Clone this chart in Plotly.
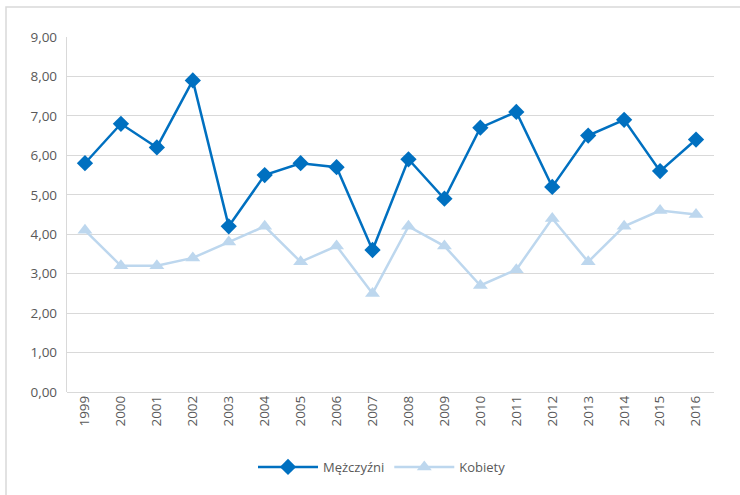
import plotly.graph_objects as go

years = [str(y) for y in range(1999, 2017)]
men = [5.8, 6.8, 6.2, 7.9, 4.2, 5.5, 5.8, 5.7, 3.6, 5.9, 4.9, 6.7, 7.1, 5.2, 6.5, 6.9, 5.6, 6.4]
women = [4.1, 3.2, 3.2, 3.4, 3.8, 4.2, 3.3, 3.7, 2.5, 4.2, 3.7, 2.7, 3.1, 4.4, 3.3, 4.2, 4.6, 4.5]
yticks = [0, 1, 2, 3, 4, 5, 6, 7, 8, 9]

fig = go.Figure()
fig.add_trace(go.Scatter(x=years, y=men, name="Mężczyźni", mode="lines+markers",
                         line=dict(color="#0070C0", width=2.5),
                         marker=dict(symbol="diamond", size=12.5, color="#0070C0")))
fig.add_trace(go.Scatter(x=years, y=women, name="Kobiety", mode="lines+markers",
                         line=dict(color="#BDD7EE", width=2.5),
                         marker=dict(symbol="triangle-up", size=13, color="#BDD7EE")))

W, H = 740, 495
L, R, T, B = 67, 26, 37, 103
pw, ph = W - L - R, H - T - B

fig.update_layout(
    width=W, height=H,
    margin=dict(l=L, r=R, t=T, b=B, autoexpand=False),
    paper_bgcolor="white", plot_bgcolor="white",
    separators=", ",
    font=dict(family="Open Sans, sans-serif", size=13, color="#595959"),
    showlegend=True,
    legend=dict(orientation="h", x=(382 - L) / pw, xanchor="center", y=-(467 - (H - B)) / ph,
                yanchor="middle", font=dict(size=13, color="#595959"), itemwidth=60),
    xaxis=dict(type="category", tickangle=-90, showgrid=False, showline=False,
               ticks="", range=[-0.5, 17.5], automargin=False,
               tickfont=dict(size=13.5, color="#595959")),
    yaxis=dict(range=[0, 9], tickvals=yticks, tickformat=".2f", showgrid=True,
               gridcolor="#D9D9D9", gridwidth=1.4, showline=True, linecolor="#D9D9D9",
               linewidth=1.4, zeroline=True, zerolinecolor="#D9D9D9", zerolinewidth=1.4,
               ticks="", automargin=False, ticklabelstandoff=6,
               tickfont=dict(size=13.5, color="#595959")),
)

# outer chart border (cropped on right and bottom)
fig.add_shape(type="rect", xref="paper", yref="paper",
              x0=(6 - L) / pw, x1=(W + 10 - L) / pw,
              y0=-(H + 10 - (H - B)) / ph, y1=((H - B) - 7) / ph,
              line=dict(color="#D9D9D9", width=1.5), fillcolor="rgba(0,0,0,0)", layer="below")

fig.write_html("out.html", config={"displayModeBar": False},
               post_script="document.body.style.margin='0';document.body.style.overflow='hidden';")
